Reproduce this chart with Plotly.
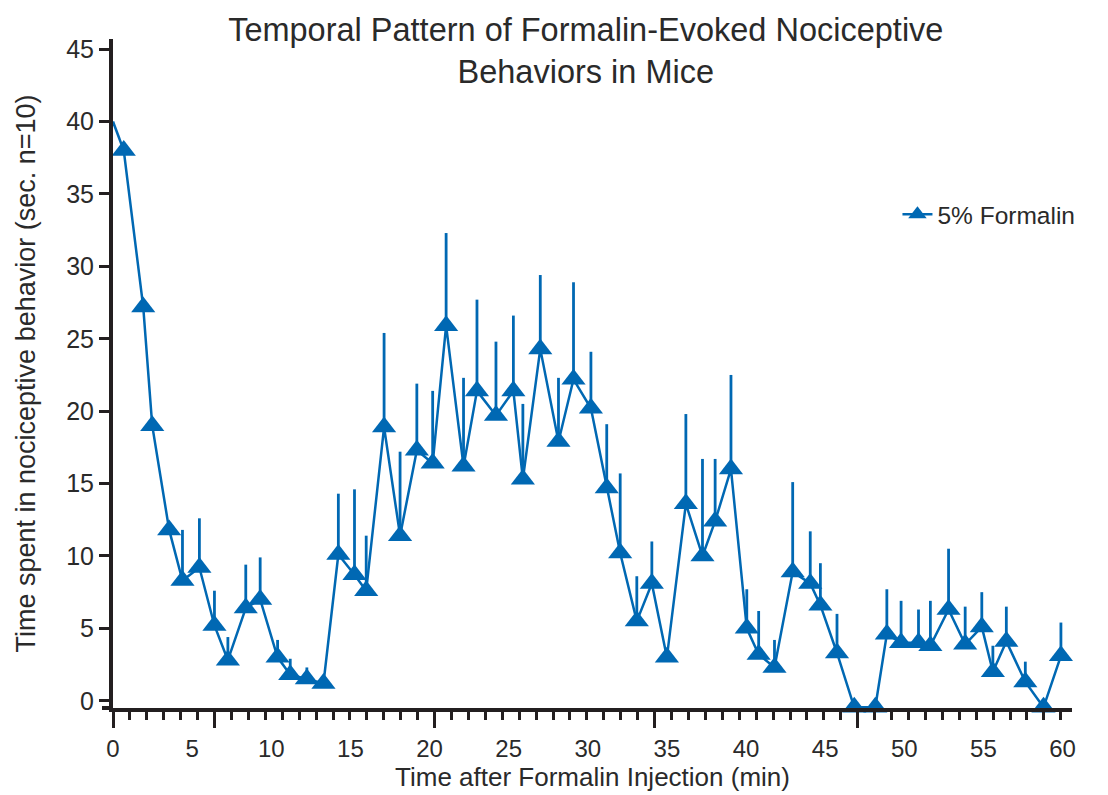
import plotly.graph_objects as go

# ---------------- data ----------------
start_time = [0.0]
start_value = [40.0]

time_min = [0.68, 1.91, 2.48, 3.55, 4.39, 5.46, 6.41, 7.26, 8.39, 9.3,
            10.4, 11.2, 12.25, 13.3, 14.24, 15.26, 16.0, 17.13, 18.14, 19.2,
            20.2, 21.05, 22.15, 23.0, 24.2, 25.3, 25.9, 27.0, 28.15, 29.1,
            30.2, 31.2, 32.05, 33.1, 34.05, 35.0, 36.2, 37.25, 38.05, 39.05,
            40.05, 40.8, 41.8, 42.95, 44.06, 44.7, 45.75, 46.84, 48.17, 48.9,
            49.8, 50.9, 51.65, 52.8, 53.85, 54.9, 55.6, 56.45, 57.65, 58.8,
            59.9]

behavior_sec = [38.0, 27.2, 19.0, 11.8, 8.3, 9.2, 5.2, 2.8, 6.4, 7.0,
                3.0, 1.8, 1.5, 1.2, 10.1, 8.7, 7.6, 18.9, 11.4, 17.3,
                16.4, 25.9, 16.2, 21.4, 19.7, 21.4, 15.3, 24.3, 17.9, 22.2,
                20.2, 14.7, 10.2, 5.5, 8.1, 3.0, 13.6, 10.0, 12.4, 16.0,
                5.0, 3.2, 2.3, 8.9, 8.1, 6.6, 3.3, -0.45, -0.45, 4.6,
                4.0, 4.0, 3.8, 6.3, 3.9, 5.1, 2.0, 4.1, 1.3, -0.45,
                3.1]

sem_up = [0, 0, 0, 0, 3.5, 3.4, 2.4, 1.6, 3.0, 2.9,
          1.2, 1.1, 0.8, 0, 4.2, 5.9, 3.8, 6.5, 5.8, 4.6,
          5.0, 6.4, 6.1, 6.3, 5.1, 5.2, 5.2, 5.1, 4.4, 6.7,
          3.9, 4.4, 5.5, 3.1, 2.9, 0, 6.2, 6.7, 4.3, 6.5,
          2.7, 3.0, 1.9, 6.2, 3.6, 2.9, 2.7, 0, 0, 3.1,
          2.9, 2.3, 3.1, 4.2, 2.6, 2.4, 1.8, 2.4, 1.4, 0,
          2.3]

x_labels = list(range(0, 61, 5))
y_ticks = list(range(0, 46, 5))
series_name = "5% Formalin"

# ---------------- style ----------------
BLUE = "#0068b3"
INK = "#231f20"
TXT = "#2a2a2a"
FONT = "Liberation Sans, Arial, sans-serif"

tick_step = 1.0695
long_idx = [0, 6, 19, 32, 44]
long_ticks = [i * tick_step for i in long_idx]
short_ticks = [i * tick_step for i in range(1, 57) if i not in long_idx]
x_range = [0, 60.6]

fig = go.Figure()

fig.add_trace(go.Scatter(
    x=start_time + time_min[:1], y=start_value + behavior_sec[:1],
    mode="lines", line=dict(color=BLUE, width=2.5),
    showlegend=False, hoverinfo="skip", cliponaxis=False))

fig.add_trace(go.Scatter(
    x=time_min, y=behavior_sec, name=series_name,
    mode="lines+markers",
    line=dict(color=BLUE, width=2.5),
    marker=dict(symbol="triangle-up", size=21, color=BLUE),
    error_y=dict(type="data", symmetric=False, array=sem_up,
                 arrayminus=[0] * len(sem_up), color=BLUE,
                 thickness=2.8, width=0),
    cliponaxis=False))

# dummy trace to carry the label axis
fig.add_trace(go.Scatter(x=[0], y=[None], xaxis="x2", showlegend=False,
                         hoverinfo="skip", mode="markers"))

fig.update_layout(
    width=1108, height=795,
    margin=dict(l=113, r=36, t=39, b=85, pad=0),
    paper_bgcolor="white", plot_bgcolor="white",
    font=dict(family=FONT, color=TXT, size=25),
    title=dict(text="Temporal Pattern of Formalin-Evoked Nociceptive<br>Behaviors in Mice",
               x=0.493, xref="paper", xanchor="center",
               y=1 - 41 / 795, yref="container", yanchor="top",
               font=dict(family=FONT, size=32.5, color=TXT)),
    xaxis=dict(range=x_range, showline=True, linewidth=4, linecolor=INK,
               showgrid=False, zeroline=False,
               tickmode="array", tickvals=long_ticks,
               ticktext=[""] * len(long_ticks), showticklabels=False,
               ticks="outside", ticklen=16, tickwidth=3, tickcolor=INK,
               minor=dict(tickmode="array", tickvals=short_ticks,
                          ticks="outside", ticklen=8, tickwidth=3,
                          tickcolor=INK, showgrid=False)),
    xaxis2=dict(range=x_range, overlaying="x", anchor="y", side="bottom",
                showline=False, showgrid=False, zeroline=False,
                tickmode="array", tickvals=x_labels,
                ticktext=[str(v) for v in x_labels],
                ticks="outside", ticklen=19, tickcolor="rgba(0,0,0,0)",
                tickfont=dict(size=24, color=TXT),
                title=dict(text="Time after Formalin Injection (min)",
                           font=dict(size=26, color=TXT), standoff=3)),
    yaxis=dict(range=[-0.5, 45.7], showline=True, linewidth=4, linecolor=INK,
               showgrid=False, zeroline=False,
               tickmode="array", tickvals=y_ticks,
               ticks="outside", ticklen=10, tickwidth=3, tickcolor=INK,
               tickfont=dict(size=25, color=TXT),
               title=dict(text="Time spent in nociceptive behavior (sec. n=10)",
                          font=dict(size=27, color=TXT), standoff=24)),
    legend=dict(x=0.818, y=0.738, xanchor="left", yanchor="middle",
                bgcolor="rgba(0,0,0,0)", font=dict(size=24.5, color=TXT)),
    showlegend=True,
)

fig.add_shape(type="line", xref="paper", yref="paper",
              x0=-11 / 959, x1=0, y0=0, y1=0,
              line=dict(color=INK, width=4))

fig.write_html("out.html")
